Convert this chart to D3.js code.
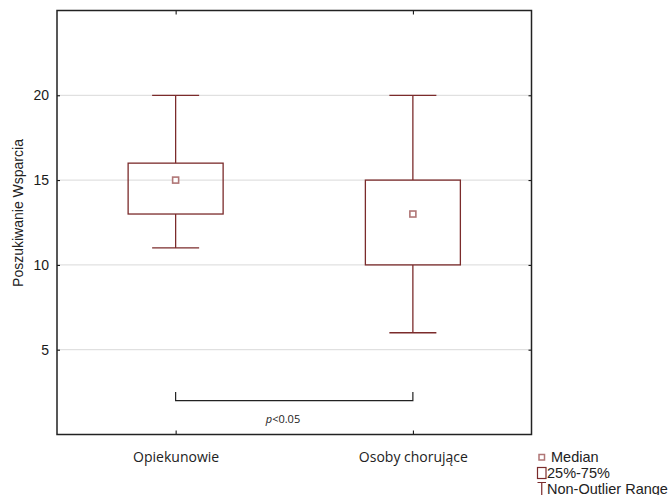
<!DOCTYPE html>
<html>
<head>
<meta charset="utf-8">
<script src="https://cdn.jsdelivr.net/npm/d3@7"></script>
<style>
  body { margin: 0; background: #fff; }
  svg { display: block; }
</style>
</head>
<body>
<svg id="chart" width="672" height="495"></svg>
<script>
// groups and their box stats
const groups = ["Opiekunowie", "Osoby chorujące"];
const mins = [11, 6];
const q1s = [13, 10];
const medians = [15, 13];
const q3s = [16, 15];
const maxs = [20, 20];
const yTicks = [5, 10, 15, 20];
const legendLabels = ["Median", "25%-75%", "Non-Outlier Range"];

const boxColor = "#7b2b2b";
const medColor = "#b07676";

const svg = d3.select("#chart");
const plotLeft = 57, plotRight = 531.5, plotTop = 10.5, plotBottom = 434.5;

const x = d3.scalePoint().domain(groups).range([plotLeft, plotRight]).padding(0.5);
const y = d3.scaleLinear().domain([0, 25]).range([plotBottom, plotTop]);

const data = groups.map((g, i) => ({
  name: g, min: mins[i], q1: q1s[i], med: medians[i], q3: q3s[i], max: maxs[i]
}));

// gridlines
svg.append("g")
  .selectAll("line")
  .data(yTicks)
  .join("line")
  .attr("x1", plotLeft).attr("x2", plotRight)
  .attr("y1", d => y(d)).attr("y2", d => y(d))
  .attr("stroke", "#d9d9d9")
  .attr("stroke-width", 1);

// left axis
const yAxis = svg.append("g")
  .attr("transform", `translate(${plotLeft},0)`)
  .call(d3.axisLeft(y).tickValues(yTicks).tickSize(-3).tickPadding(8));
yAxis.select(".domain").remove();
yAxis.selectAll("text")
  .attr("font-family", "Liberation Sans, Arial, sans-serif")
  .attr("font-size", 14)
  .attr("fill", "#1a1a1a");

// right ticks
svg.append("g")
  .attr("transform", `translate(${plotRight},0)`)
  .call(d3.axisRight(y).tickValues(yTicks).tickSize(-3).tickFormat(""))
  .select(".domain").remove();

// bottom axis
const xAxis = svg.append("g")
  .attr("transform", `translate(0,${plotBottom})`)
  .call(d3.axisBottom(x).tickSize(-4).tickPadding(18));
xAxis.select(".domain").remove();
xAxis.selectAll("text")
  .attr("font-family", "Open Sans, sans-serif")
  .attr("font-size", 14)
  .attr("fill", "#222");

// top ticks
svg.append("g")
  .attr("transform", `translate(0,${plotTop})`)
  .call(d3.axisTop(x).tickSize(-4).tickFormat(""))
  .select(".domain").remove();

// frame
svg.append("rect")
  .attr("x", plotLeft).attr("y", plotTop)
  .attr("width", plotRight - plotLeft).attr("height", plotBottom - plotTop)
  .attr("fill", "none")
  .attr("stroke", "#222")
  .attr("stroke-width", 1.5);

// boxes
const boxW = 95, capW = 47;
const box = svg.append("g").selectAll("g")
  .data(data)
  .join("g");

box.append("line")
  .attr("x1", d => x(d.name)).attr("x2", d => x(d.name))
  .attr("y1", d => y(d.max)).attr("y2", d => y(d.q3))
  .attr("stroke", boxColor).attr("stroke-width", 1.3);
box.append("line")
  .attr("x1", d => x(d.name)).attr("x2", d => x(d.name))
  .attr("y1", d => y(d.q1)).attr("y2", d => y(d.min))
  .attr("stroke", boxColor).attr("stroke-width", 1.3);
box.append("line")
  .attr("x1", d => x(d.name) - capW / 2).attr("x2", d => x(d.name) + capW / 2)
  .attr("y1", d => y(d.max)).attr("y2", d => y(d.max))
  .attr("stroke", boxColor).attr("stroke-width", 1.3);
box.append("line")
  .attr("x1", d => x(d.name) - capW / 2).attr("x2", d => x(d.name) + capW / 2)
  .attr("y1", d => y(d.min)).attr("y2", d => y(d.min))
  .attr("stroke", boxColor).attr("stroke-width", 1.3);
box.append("rect")
  .attr("x", d => x(d.name) - boxW / 2)
  .attr("y", d => y(d.q3))
  .attr("width", boxW)
  .attr("height", d => y(d.q1) - y(d.q3))
  .attr("fill", "none")
  .attr("stroke", boxColor).attr("stroke-width", 1.3);
box.append("rect")
  .attr("x", d => x(d.name) - 3)
  .attr("y", d => y(d.med) - 3)
  .attr("width", 6).attr("height", 6)
  .attr("fill", "#fff")
  .attr("stroke", medColor).attr("stroke-width", 1.6);

// significance bracket
const bY = y(2), bTop = y(2.5);
svg.append("path")
  .attr("d", `M${x(groups[0])},${bTop}V${bY}H${x(groups[1])}V${bTop}`)
  .attr("fill", "none")
  .attr("stroke", "#222")
  .attr("stroke-width", 1.2);
const pText = svg.append("text")
  .attr("x", 283).attr("y", y(0.7))
  .attr("text-anchor", "middle")
  .attr("font-family", "Open Sans, sans-serif")
  .attr("font-size", 11)
  .attr("fill", "#222");
pText.append("tspan").attr("font-style", "italic").text("p");
pText.append("tspan").text("<0.05");

// y title
svg.append("text")
  .attr("transform", "translate(22.5,213) rotate(-90)")
  .attr("text-anchor", "middle")
  .attr("font-family", "Liberation Sans, Arial, sans-serif")
  .attr("font-size", 14)
  .attr("fill", "#222")
  .text("Poszukiwanie Wsparcia");

// legend
const lg = svg.append("g").attr("transform", "translate(537,450)");
lg.append("rect")
  .attr("x", 2).attr("y", 4.5).attr("width", 5.5).attr("height", 5.5)
  .attr("fill", "#fff").attr("stroke", medColor).attr("stroke-width", 1.5);
lg.append("rect")
  .attr("x", 0.5).attr("y", 17.5).attr("width", 8.5).attr("height", 11)
  .attr("fill", "none").attr("stroke", boxColor).attr("stroke-width", 1.2);
lg.append("path")
  .attr("d", "M0.5,32.5H9M4.75,32.5V45")
  .attr("fill", "none").attr("stroke", boxColor).attr("stroke-width", 1.2);
lg.selectAll("text.lab")
  .data(legendLabels)
  .join("text")
  .attr("class", "lab")
  .attr("x", (d, i) => i === 0 ? 14 : 10)
  .attr("y", (d, i) => 11.5 + i * 16)
  .attr("font-family", "Liberation Sans, Arial, sans-serif")
  .attr("font-size", 14.5)
  .attr("fill", "#222")
  .text(d => d);
</script>
</body>
</html>
